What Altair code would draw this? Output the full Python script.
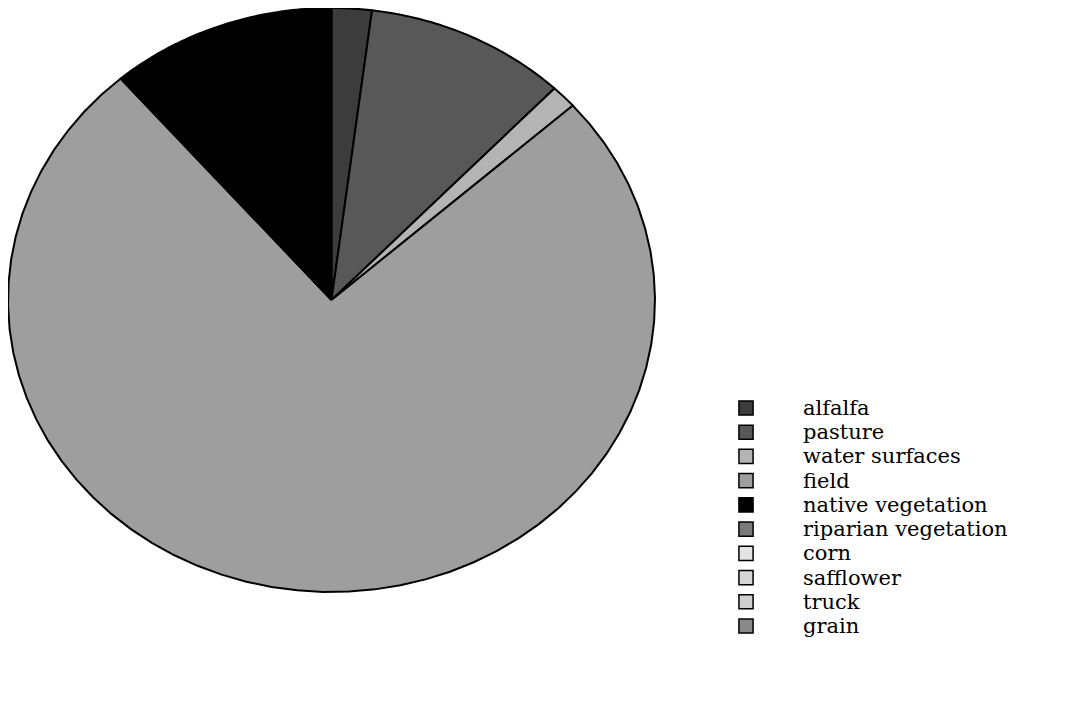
import altair as alt
import pandas as pd

# Land-use categories (legend order) and their share of the pie (%)
categories = ["alfalfa", "pasture", "water surfaces", "field", "native vegetation",
              "riparian vegetation", "corn", "safflower", "truck", "grain"]
shares = [2.0, 10.1, 1.3, 75.3, 11.3, 0.0, 0.0, 0.0, 0.0, 0.0]

# Grey tones standing in for the hatch patterns of the original
fills = ["#3c3c3c", "#585858", "#b4b4b4", "#9e9e9e", "#000000",
         "#7a7a7a", "#e4e4e4", "#d6d6d6", "#cfcfcf", "#8a8a8a"]

df = pd.DataFrame({"category": categories, "share": shares, "order": list(range(len(categories)))})

fill_scale = alt.Scale(domain=categories, range=fills)

pie = (
    alt.Chart(df)
    .transform_filter("datum.share > 0")
    .transform_joinaggregate(total="sum(share)")
    .transform_window(cum="sum(share)", sort=[alt.SortField("order")], frame=[None, 0])
    .transform_calculate(
        a0="(datum.cum - datum.share) / datum.total * 2 * PI",
        a1="datum.cum / datum.total * 2 * PI",
        steps="sequence(0, 62)",
    )
    .transform_flatten(["steps"], as_=["i"])
    .transform_calculate(
        ang="datum.a0 + (datum.a1 - datum.a0) * (datum.i - 1) / 59",
        r="(datum.i == 0 || datum.i == 61) ? 0 : 1",
    )
    .transform_calculate(
        px="datum.r * sin(datum.ang)",
        py="datum.r * cos(datum.ang)",
    )
    .mark_line(stroke="black", strokeWidth=2, strokeJoin="miter")
    .encode(
        x=alt.X("px:Q", scale=alt.Scale(domain=[-1, 1], nice=False, zero=False), axis=None),
        y=alt.Y("py:Q", scale=alt.Scale(domain=[-1, 1], nice=False, zero=False), axis=None),
        detail="category:N",
        order=alt.Order("i:Q"),
        fill=alt.Fill("category:N", scale=fill_scale, legend=None),
    )
)

legend_y = alt.Y("category:N", sort=categories,
                 scale=alt.Scale(type="point", domain=categories, range=[400, 618], padding=0),
                 axis=None)

swatches = (
    alt.Chart(df)
    .mark_square(size=200, stroke="black", strokeWidth=1.5, opacity=1)
    .encode(
        x=alt.value(738),
        y=legend_y,
        fill=alt.Fill("category:N", scale=fill_scale, legend=None),
    )
)

labels = (
    alt.Chart(df)
    .mark_text(align="left", baseline="alphabetic", dy=7, font="DejaVu Serif",
               fontSize=21, color="black")
    .encode(
        x=alt.value(795),
        y=legend_y,
        text="category:N",
    )
)

legend = alt.layer(swatches, labels)

chart = (
    alt.layer(pie, legend)
    .resolve_scale(x="independent", y="independent")
    .properties(
        width=647,
        height=584,
        padding={"left": 0, "top": 0, "right": 405, "bottom": 119},
        autosize=alt.AutoSizeParams(type="none"),
        background="white",
    )
    .configure_view(stroke=None)
)

chart.save("out.html", embed_options={"renderer": "svg", "actions": False})
